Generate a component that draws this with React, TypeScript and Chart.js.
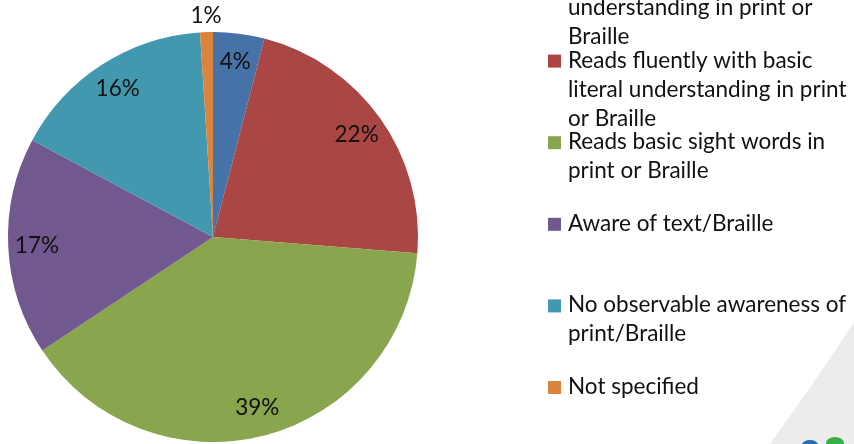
import React, { useEffect, useRef } from "react";
import { Chart, registerables } from "chart.js";

Chart.register(...registerables);

// ---- data ----
const categories: string[][] = [
  ["Reads fluently with critical", "understanding in print or", "Braille"],
  ["Reads fluently with basic", "literal understanding in print", "or Braille"],
  ["Reads basic sight words in", "print or Braille"],
  ["Aware of text/Braille"],
  ["No observable awareness of", "print/Braille"],
  ["Not specified"],
];
const percentValues: number[] = [4, 22, 39, 17, 16, 1];
const sliceColors: string[] = ["#4572A7", "#AA4643", "#89A54E", "#71588F", "#4198AF", "#DB843D"];

const FONT = "Lato, 'Open Sans', 'DejaVu Sans', sans-serif";

const labelPlugin = {
  id: "sliceLabels",
  afterDatasetsDraw(chart: any) {
    const ctx = chart.ctx;
    const meta = chart.getDatasetMeta(0);
    const data = chart.data.datasets[0].data as number[];
    const total = data.reduce((a, b) => a + b, 0);
    ctx.save();
    ctx.font = `22.5px ${FONT}`;
    ctx.fillStyle = "#111";
    ctx.textAlign = "center";
    ctx.textBaseline = "middle";
    meta.data.forEach((arc: any, i: number) => {
      const p = arc.getProps(["x", "y", "startAngle", "endAngle", "outerRadius"], true);
      const mid = (p.startAngle + p.endAngle) / 2;
      const share = data[i] / total;
      const r = share < 0.02 ? p.outerRadius + 16 : p.outerRadius * 0.86;
      const x = p.x + Math.cos(mid) * r;
      const y = p.y + Math.sin(mid) * r;
      ctx.fillText(`${Math.round(share * 100)}%`, x, y);
    });
    ctx.restore();
  },
};

const legendPlugin = {
  id: "sideLegend",
  afterDraw(chart: any) {
    const ctx = chart.ctx;
    const labels = chart.data.labels as string[][];
    const colors = chart.data.datasets[0].backgroundColor as string[];
    const firstBaseline = -14;
    const itemStep = 81.6;
    const lineHeight = 29;
    const boxX = 548;
    const textX = 568;
    ctx.save();
    ctx.font = `22.5px ${FONT}`;
    ctx.textAlign = "left";
    ctx.textBaseline = "alphabetic";
    labels.forEach((lines, i) => {
      const base = firstBaseline + i * itemStep;
      ctx.fillStyle = colors[i];
      ctx.fillRect(boxX, base - 13, 13, 13);
      ctx.fillStyle = "#111";
      lines.forEach((ln, j) => ctx.fillText(ln, textX, base + j * lineHeight));
    });
    ctx.restore();
  },
};

export default function App() {
  const ref = useRef<HTMLCanvasElement | null>(null);
  useEffect(() => {
    if (!ref.current) return;
    const chart = new Chart(ref.current, {
      type: "pie",
      data: {
        labels: categories as any,
        datasets: [
          {
            data: percentValues,
            backgroundColor: sliceColors,
            borderWidth: 0,
          },
        ],
      },
      options: {
        responsive: false,
        animation: false,
        layout: { padding: { left: 8, top: 32, right: 436, bottom: 2 } },
        plugins: {
          legend: { display: false },
          tooltip: { enabled: false },
          title: { display: false },
        },
      },
      plugins: [labelPlugin, legendPlugin],
    });
    return () => chart.destroy();
  }, []);

  return (
    <div style={{ position: "fixed", left: 0, top: 0, width: 854, height: 444, background: "#fff", overflow: "hidden" }}>
      <svg width={854} height={444} style={{ position: "absolute", left: 0, top: 0 }}>
        <path d="M 854 322 Q 815 382 770 444 L 854 444 Z" fill="#ececec" />
        <ellipse cx={810} cy={445} rx={8} ry={5} fill="#1f6fb5" />
        <ellipse cx={835} cy={443} rx={9} ry={6} fill="#3aae49" />
      </svg>
      <canvas ref={ref} width={854} height={444} style={{ position: "absolute", left: 0, top: 0, width: 854, height: 444 }} />
    </div>
  );
}
